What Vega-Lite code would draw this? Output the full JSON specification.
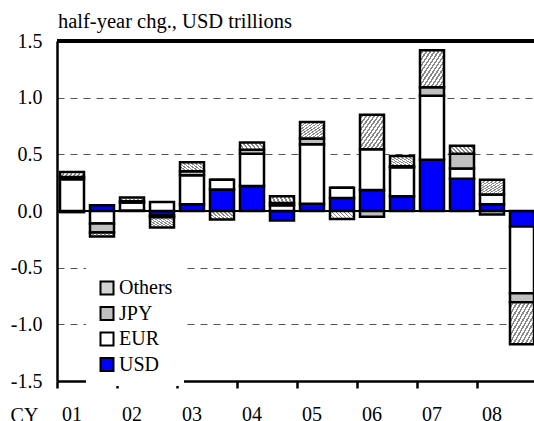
{
  "$schema": "https://vega.github.io/schema/vega-lite/v6.json",
  "width": 477,
  "height": 340,
  "autosize": "none",
  "padding": {"left": 57, "top": 41, "right": 0, "bottom": 40},
  "background": "white",
  "config": {
    "view": {"stroke": null},
    "font": "Liberation Serif"
  },
  "title": {
    "text": "half-year chg., USD trillions",
    "anchor": "start",
    "frame": "group",
    "offset": 11.5,
    "dy": 29,
    "baseline": "alphabetic",
    "fontSize": 20.5,
    "font": "Liberation Serif",
    "fontWeight": "normal",
    "color": "black",
    "dx": 1
  },
  "data": {
    "values": [
      {"period": "2001 H1", "Currency": "USD", "value": -0.01},
      {"period": "2001 H1", "Currency": "EUR", "value": 0.28},
      {"period": "2001 H1", "Currency": "JPY", "value": 0.02},
      {"period": "2001 H1", "Currency": "Others", "value": 0.045},
      {"period": "2001 H2", "Currency": "USD", "value": 0.05},
      {"period": "2001 H2", "Currency": "EUR", "value": -0.11},
      {"period": "2001 H2", "Currency": "JPY", "value": -0.08},
      {"period": "2001 H2", "Currency": "Others", "value": -0.035},
      {"period": "2002 H1", "Currency": "USD", "value": 0.005},
      {"period": "2002 H1", "Currency": "EUR", "value": 0.07},
      {"period": "2002 H1", "Currency": "JPY", "value": 0.01},
      {"period": "2002 H1", "Currency": "Others", "value": 0.035},
      {"period": "2002 H2", "Currency": "USD", "value": -0.04},
      {"period": "2002 H2", "Currency": "EUR", "value": 0.08},
      {"period": "2002 H2", "Currency": "JPY", "value": -0.015},
      {"period": "2002 H2", "Currency": "Others", "value": -0.09},
      {"period": "2003 H1", "Currency": "USD", "value": 0.06},
      {"period": "2003 H1", "Currency": "EUR", "value": 0.255},
      {"period": "2003 H1", "Currency": "JPY", "value": 0.035},
      {"period": "2003 H1", "Currency": "Others", "value": 0.08},
      {"period": "2003 H2", "Currency": "USD", "value": 0.19},
      {"period": "2003 H2", "Currency": "EUR", "value": 0.085},
      {"period": "2003 H2", "Currency": "JPY", "value": 0},
      {"period": "2003 H2", "Currency": "Others", "value": -0.075},
      {"period": "2004 H1", "Currency": "USD", "value": 0.22},
      {"period": "2004 H1", "Currency": "EUR", "value": 0.285},
      {"period": "2004 H1", "Currency": "JPY", "value": 0.035},
      {"period": "2004 H1", "Currency": "Others", "value": 0.065},
      {"period": "2004 H2", "Currency": "USD", "value": -0.083},
      {"period": "2004 H2", "Currency": "EUR", "value": 0.05},
      {"period": "2004 H2", "Currency": "JPY", "value": 0.02},
      {"period": "2004 H2", "Currency": "Others", "value": 0.06},
      {"period": "2005 H1", "Currency": "USD", "value": 0.065},
      {"period": "2005 H1", "Currency": "EUR", "value": 0.525},
      {"period": "2005 H1", "Currency": "JPY", "value": 0.05},
      {"period": "2005 H1", "Currency": "Others", "value": 0.145},
      {"period": "2005 H2", "Currency": "USD", "value": 0.115},
      {"period": "2005 H2", "Currency": "EUR", "value": 0.09},
      {"period": "2005 H2", "Currency": "JPY", "value": 0},
      {"period": "2005 H2", "Currency": "Others", "value": -0.07},
      {"period": "2006 H1", "Currency": "USD", "value": 0.185},
      {"period": "2006 H1", "Currency": "EUR", "value": 0.36},
      {"period": "2006 H1", "Currency": "JPY", "value": -0.05},
      {"period": "2006 H1", "Currency": "Others", "value": 0.305},
      {"period": "2006 H2", "Currency": "USD", "value": 0.13},
      {"period": "2006 H2", "Currency": "EUR", "value": 0.255},
      {"period": "2006 H2", "Currency": "JPY", "value": 0.01},
      {"period": "2006 H2", "Currency": "Others", "value": 0.09},
      {"period": "2007 H1", "Currency": "USD", "value": 0.453},
      {"period": "2007 H1", "Currency": "EUR", "value": 0.565},
      {"period": "2007 H1", "Currency": "JPY", "value": 0.075},
      {"period": "2007 H1", "Currency": "Others", "value": 0.325},
      {"period": "2007 H2", "Currency": "USD", "value": 0.285},
      {"period": "2007 H2", "Currency": "EUR", "value": 0.09},
      {"period": "2007 H2", "Currency": "JPY", "value": 0.13},
      {"period": "2007 H2", "Currency": "Others", "value": 0.07},
      {"period": "2008 H1", "Currency": "USD", "value": 0.06},
      {"period": "2008 H1", "Currency": "EUR", "value": 0.085},
      {"period": "2008 H1", "Currency": "JPY", "value": -0.03},
      {"period": "2008 H1", "Currency": "Others", "value": 0.13},
      {"period": "2008 H2", "Currency": "USD", "value": -0.136},
      {"period": "2008 H2", "Currency": "EUR", "value": -0.59},
      {"period": "2008 H2", "Currency": "JPY", "value": -0.08},
      {"period": "2008 H2", "Currency": "Others", "value": -0.37}
    ]
  },
  "layer": [
    {
      "mark": {"type": "rule", "color": "black", "strokeWidth": 1},
      "encoding": {"y": {"datum": 0, "type": "quantitative"}}
    },
    {
      "transform": [
        {"calculate": "indexof(['USD', 'EUR', 'JPY', 'Others'], datum.Currency)", "as": "stack_rank"}
      ],
      "mark": {"type": "bar", "stroke": "black", "strokeWidth": 2.5, "strokeJoin": "miter"},
      "encoding": {
        "x": {
          "field": "period",
          "type": "ordinal",
          "scale": {"type": "band", "range": [0, 480], "paddingInner": 0.2, "paddingOuter": 0.1},
          "axis": {
            "title": "CY",
            "titleFont": "Liberation Serif",
            "titleFontSize": 20,
            "titleFontWeight": "normal",
            "titleColor": "black",
            "titleX": -33,
            "titleY": 40,
            "titleAlign": "center",
            "titleBaseline": "alphabetic",
            "titleAngle": 0,
            "values": ["2001 H1", "2002 H1", "2003 H1", "2004 H1", "2005 H1", "2006 H1", "2007 H1", "2008 H1"],
            "labelExpr": "substring(datum.value, 2, 4)",
            "labelAngle": 0,
            "labelFont": "Liberation Serif",
            "labelFontSize": 20,
            "labelColor": "black",
            "labelBaseline": "alphabetic",
            "labelAlign": "center",
            "labelPadding": 32,
            "labelOffset": 0,
            "bandPosition": -0.125,
            "tickSize": 7,
            "tickWidth": 2.5,
            "tickColor": "black",
            "domainColor": "black",
            "domainWidth": 2.5,
            "grid": false
          }
        },
        "y": {
          "field": "value",
          "type": "quantitative",
          "stack": "zero",
          "scale": {"domain": [-1.5, 1.5], "nice": false, "zero": false},
          "axis": {
            "title": null,
            "values": [-1.5, -1, -0.5, 0, 0.5, 1, 1.5],
            "labelExpr": "replace(format(datum.value, '.1f'), '\u2212', '-')",
            "labelFont": "Liberation Serif",
            "labelFontSize": 20,
            "labelColor": "black",
            "labelPadding": 15,
            "ticks": false,
            "domainColor": "black",
            "domainWidth": 2.5,
            "grid": true,
            "gridColor": {"condition": {"test": "abs(datum.value) == 1.5", "value": "transparent"}, "value": "#555555"},
            "gridDash": [7, 6],
            "gridWidth": 1
          }
        },
        "order": {"field": "stack_rank", "type": "quantitative", "sort": "ascending"},
        "fill": {
          "field": "Currency",
          "type": "nominal",
          "sort": ["Others", "JPY", "EUR", "USD"],
          "condition": {
            "test": "datum.Currency == 'Others'",
            "value": {"gradient": "linear", "x1": 0, "y1": 0, "x2": 1, "y2": 1, "stops": [
                {"offset": 0, "color": "#ffffff"}, {"offset": 0.0458, "color": "#ffffff"}, {"offset": 0.0458, "color": "#888888"}, {"offset": 0.0833, "color": "#888888"},
                {"offset": 0.0833, "color": "#ffffff"}, {"offset": 0.1292, "color": "#ffffff"}, {"offset": 0.1292, "color": "#888888"}, {"offset": 0.1667, "color": "#888888"},
                {"offset": 0.1667, "color": "#ffffff"}, {"offset": 0.2125, "color": "#ffffff"}, {"offset": 0.2125, "color": "#888888"}, {"offset": 0.25, "color": "#888888"},
                {"offset": 0.25, "color": "#ffffff"}, {"offset": 0.2958, "color": "#ffffff"}, {"offset": 0.2958, "color": "#888888"}, {"offset": 0.3333, "color": "#888888"},
                {"offset": 0.3333, "color": "#ffffff"}, {"offset": 0.3792, "color": "#ffffff"}, {"offset": 0.3792, "color": "#888888"}, {"offset": 0.4167, "color": "#888888"},
                {"offset": 0.4167, "color": "#ffffff"}, {"offset": 0.4625, "color": "#ffffff"}, {"offset": 0.4625, "color": "#888888"}, {"offset": 0.5, "color": "#888888"},
                {"offset": 0.5, "color": "#ffffff"}, {"offset": 0.5458, "color": "#ffffff"}, {"offset": 0.5458, "color": "#888888"}, {"offset": 0.5833, "color": "#888888"},
                {"offset": 0.5833, "color": "#ffffff"}, {"offset": 0.6292, "color": "#ffffff"}, {"offset": 0.6292, "color": "#888888"}, {"offset": 0.6667, "color": "#888888"},
                {"offset": 0.6667, "color": "#ffffff"}, {"offset": 0.7125, "color": "#ffffff"}, {"offset": 0.7125, "color": "#888888"}, {"offset": 0.75, "color": "#888888"},
                {"offset": 0.75, "color": "#ffffff"}, {"offset": 0.7958, "color": "#ffffff"}, {"offset": 0.7958, "color": "#888888"}, {"offset": 0.8333, "color": "#888888"},
                {"offset": 0.8333, "color": "#ffffff"}, {"offset": 0.8792, "color": "#ffffff"}, {"offset": 0.8792, "color": "#888888"}, {"offset": 0.9167, "color": "#888888"},
                {"offset": 0.9167, "color": "#ffffff"}, {"offset": 0.9625, "color": "#ffffff"}, {"offset": 0.9625, "color": "#888888"}, {"offset": 1, "color": "#888888"}
            ]}
          },
          "scale": {
            "domain": ["Others", "JPY", "EUR", "USD"],
            "range": ["#d4d4d4", "#c0c0c0", "#ffffff", "#0000ff"]
          },
          "legend": {
            "title": null,
            "orient": "none",
            "legendX": 29,
            "legendY": 226,
            "padding": 11,
            "fillColor": "white",
            "symbolType": "square",
            "symbolSize": 169,
            "symbolStrokeColor": "black",
            "symbolStrokeWidth": 2,
            "symbolOpacity": 1,
            "labelFont": "Liberation Serif",
            "labelFontSize": 20,
            "labelColor": "black",
            "labelOffset": 2,
            "rowPadding": 3.5
          }
        }
      }
    },
    {
      "mark": {"type": "rule", "color": "black", "strokeWidth": 2.5},
      "encoding": {"y": {"datum": 1.5, "type": "quantitative"}}
    }
  ]
}
